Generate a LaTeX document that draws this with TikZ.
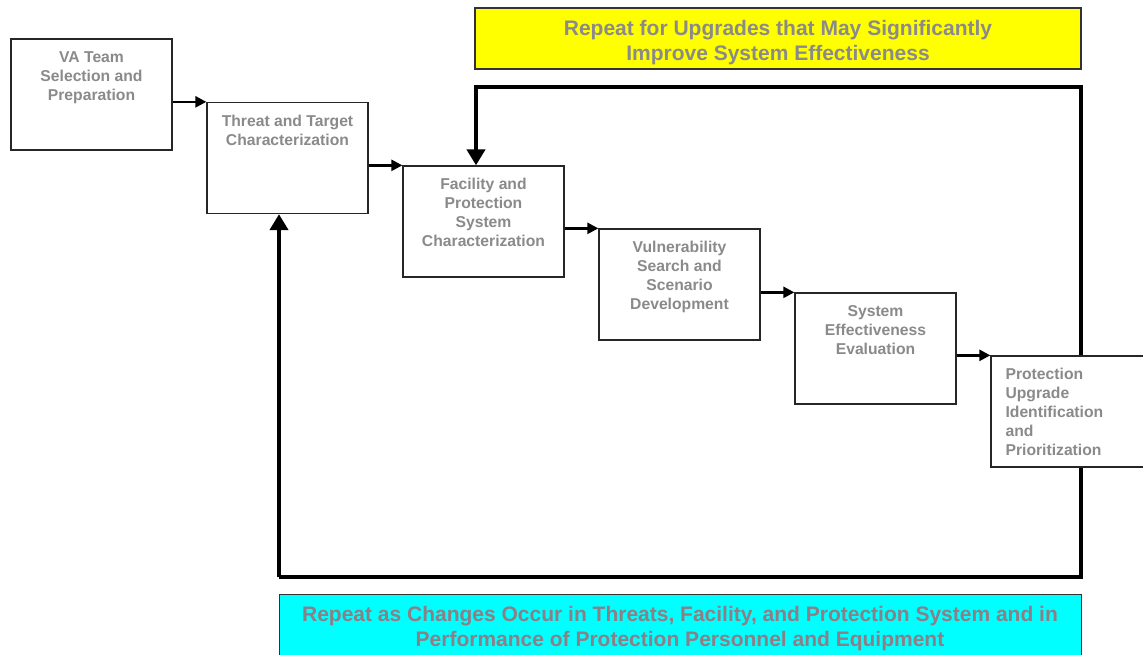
\documentclass[tikz,border=0pt]{standalone}
\usepackage{fontspec}
\setmainfont{Liberation Sans}
\usetikzlibrary{arrows.meta}
\definecolor{txtgray}{HTML}{8A8A8A}
\definecolor{cyantxt}{HTML}{8C7F86}
\definecolor{bannery}{HTML}{FFFF00}
\definecolor{bannerc}{HTML}{00FFFF}
\pgfdeclarelayer{bg}
\pgfsetlayers{bg,main}
\begin{document}
\begin{tikzpicture}[x=1pt,y=-1pt,
  stepbox/.style={draw=black!85, line width=1.3pt, fill=white, minimum width=161pt, minimum height=111pt, inner sep=0pt},
  boxtext/.style={font=\fontsize{15.7}{19}\selectfont\bfseries, text=txtgray, inner sep=0pt, anchor=north},
  arr/.style={line width=2.5pt, -{Triangle[length=11pt,width=11pt]}},
  bigline/.style={line width=4.5pt, line join=miter},
  bigarr/.style={line width=4.5pt, -{Triangle[length=16pt,width=18pt]}},
  banner/.style={draw=black!80, line width=1.3pt, inner sep=0pt},
  bannertext/.style={font=\fontsize{21}{25}\selectfont\bfseries, align=center, inner sep=0pt}]
\useasboundingbox (0,0) rectangle (1143,655);
\clip (0,0) rectangle (1143,655);

% banners
\node[banner, fill=bannery, minimum width=606pt, minimum height=61pt] (yb) at (778,38.5) {};
\node[bannertext, text=txtgray] (ybt) at (778,42.5) {Repeat for Upgrades that May Significantly\\Improve System Effectiveness};
\node[banner, fill=bannerc, minimum width=802pt, minimum height=90pt, anchor=north west] (cb) at (279,594) {};
\node[bannertext, text=cyantxt] (cbt) at (680,629) {Repeat as Changes Occur in Threats, Facility, and Protection System and in\\Performance of Protection Personnel and Equipment};

% step boxes
\node[stepbox] (b1) at (91.5,94.5) {};
\node[stepbox] (b2) at (287.5,158) {};
\node[stepbox] (b3) at (483.5,221.5) {};
\node[stepbox] (b4) at (679.5,284.5) {};
\node[stepbox] (b5) at (875.5,348.5) {};
\node[stepbox] (b6) at (1071.5,411.5) {};

\node[boxtext, align=center, yshift=-13pt] (t1) at (b1.north) {VA Team\\Selection and\\Preparation};
\node[boxtext, align=center, yshift=-13pt] (t2) at (b2.north) {Threat and Target\\Characterization};
\node[boxtext, align=center, yshift=-13pt] (t3) at (b3.north) {Facility and\\Protection\\System\\Characterization};
\node[boxtext, align=center, yshift=-13pt] (t4) at (b4.north) {Vulnerability\\Search and\\Scenario\\Development};
\node[boxtext, align=center, yshift=-13pt] (t5) at (b5.north) {System\\Effectiveness\\Evaluation};
\node[boxtext, align=left, anchor=north west, xshift=15pt, yshift=-13pt] (t6) at (b6.north west) {Protection\\Upgrade\\Identification\\and\\Prioritization};

% step arrows
\draw[arr] (b1.east |- b2.north) -- (b2.north west);
\draw[arr] (b2.east |- b3.north) -- (b3.north west);
\draw[arr] (b3.east |- b4.north) -- (b4.north west);
\draw[arr] (b4.east |- b5.north) -- (b5.north west);
\draw[arr] (b5.east |- b6.north) -- (b6.north west);

% feedback loop
\coordinate (ltop) at (476,87);
\coordinate (rtop) at (1081,87);
\coordinate (rbot) at (1081,577);
\coordinate (lbot) at (279,577);
\begin{pgfonlayer}{bg}
\draw[bigline] (ltop) -- (rtop) -- (rbot) -- (lbot);
\end{pgfonlayer}
\draw[bigarr] (lbot) -- (lbot |- b2.south);
\draw[bigarr] ([yshift=2.25pt]ltop) -- (ltop |- b3.north);
\end{tikzpicture}
\end{document}
